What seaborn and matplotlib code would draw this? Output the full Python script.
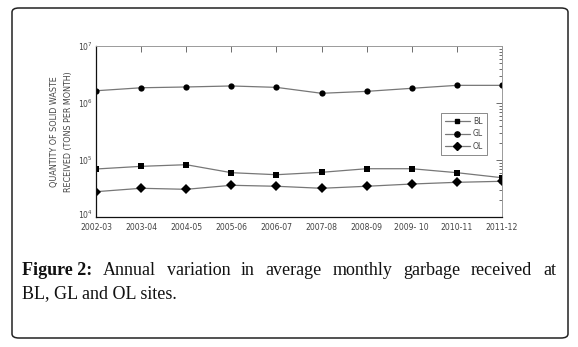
import matplotlib
matplotlib.use("Agg")
import matplotlib.pyplot as plt
import matplotlib.transforms as mtransforms
from matplotlib.patches import FancyBboxPatch
from matplotlib.ticker import (LogLocator, FixedLocator, NullFormatter,
                               LogFormatterSciNotation)
from matplotlib.lines import Line2D
import seaborn as sns
import pandas as pd

years = ["2002-03", "2003-04", "2004-05", "2005-06", "2006-07",
         "2007-08", "2008-09", "2009- 10", "2010-11", "2011-12"]
bl = [69500, 77400, 82700, 59900, 55200, 60800, 70300, 70300, 59900, 48900]
gl = [1640000, 1850000, 1910000, 1990000, 1880000, 1480000, 1600000, 1810000, 2040000, 2040000]
ol = [27800, 31900, 30600, 36000, 34600, 31900, 34600, 37900, 40600, 42300]
sites = ["BL", "GL", "OL"]
decades = [1e4, 1e5, 1e6, 1e7]

rows = []
for site, vals in zip(sites, [bl, gl, ol]):
    for i, v in enumerate(vals):
        rows.append({"pos": i, "year": years[i], "site": site, "waste": v})
df = pd.DataFrame(rows)

sns.set_style("white")
plt.rcParams["font.family"] = ["DejaVu Sans"]

W, H = 578, 347
fig = plt.figure(figsize=(W / 100, H / 100), dpi=100)

# rounded frame around figure and caption
frame = FancyBboxPatch((12 / W, 1 - 338 / H), (568 - 12) / W, (338 - 8) / H,
                       boxstyle="round,pad=0,rounding_size=0.012",
                       transform=fig.transFigure, fill=False,
                       edgecolor="#222222", linewidth=1.1)
fig.patches.append(frame)

ax = fig.add_axes([96 / W, 1 - 217 / H, (502 - 96) / W, (217 - 46) / H])

sns.lineplot(data=df, x="pos", y="waste", hue="site", style="site",
             markers={"BL": "s", "GL": "o", "OL": "D"}, dashes=False,
             palette={"BL": "#777777", "GL": "#777777", "OL": "#777777"},
             linewidth=0.9, markersize=4.5, markeredgewidth=0,
             ax=ax, legend=False)
for ln in ax.lines:
    ln.set_markerfacecolor("black")
    ln.set_markeredgecolor("black")
ax.lines[2].set_markersize(4.8)

ax.set_yscale("log")
ax.set_ylim(decades[0], decades[-1])
ax.set_xlim(0, len(years) - 1)
ax.xaxis.set_major_locator(FixedLocator(range(len(years))))
ax.set_xticklabels(years)
ax.yaxis.set_major_locator(FixedLocator(decades))
ax.yaxis.set_major_formatter(LogFormatterSciNotation())
ax.yaxis.set_minor_locator(LogLocator(base=10, subs=range(2, 10), numticks=20))
ax.yaxis.set_minor_formatter(NullFormatter())
ax.set_xlabel("")
ax.set_ylabel("QUANTITY OF SOLID WASTE\nRECEIVED (TONS PER MONTH)",
              fontsize=5.8, color="#444444", labelpad=4, linespacing=1.6)

ax.tick_params(axis="both", which="both", direction="in", top=True, right=True,
               colors="#555555", labelcolor="#444444", labelsize=5.6, width=0.6)
ax.tick_params(axis="both", which="major", length=4)
ax.tick_params(axis="x", which="major", pad=4)
ax.tick_params(axis="y", which="major", pad=2)
ax.tick_params(axis="y", which="minor", length=2)
ax.tick_params(axis="x", which="minor", length=0)

# lift the bottom decade label a little so it clears the first year label
fig.canvas.draw()
bottom_tick = ax.yaxis.get_major_ticks()[0]
lift = mtransforms.ScaledTranslation(0, 3 / 100, fig.dpi_scale_trans)
bottom_tick.label1.set_transform(bottom_tick.label1.get_transform() + lift)

for side in ["left", "bottom"]:
    ax.spines[side].set_color("#111111")
    ax.spines[side].set_linewidth(0.9)
for side in ["top", "right"]:
    ax.spines[side].set_color("#9a9a9a")
    ax.spines[side].set_linewidth(0.7)

# legend
handles = [Line2D([], [], color="#777777", lw=0.9, marker=m, markersize=ms,
                  markerfacecolor="black", markeredgecolor="black")
           for m, ms in zip(["s", "o", "D"], [3.5, 3.8, 3.8])]
leg = ax.legend(handles, sites, loc="upper left",
                bbox_to_anchor=((441 - 96) / 406, (217 - 113) / 171),
                fontsize=5.6, frameon=True, fancybox=False, edgecolor="#555555",
                handlelength=3.2, handletextpad=0.4, borderpad=0.5,
                labelspacing=0.45, borderaxespad=0)
leg.get_frame().set_linewidth(0.6)
for t in leg.get_texts():
    t.set_color("#444444")

# caption: first line justified between the frame margins
serif = ["Liberation Serif", "DejaVu Serif"]
cap_size = 13.0
x_left, x_right = 22, 556
base1, base2 = 275, 298
first_words = ["Annual", "variation", "in", "average", "monthly", "garbage",
               "received", "at"]
renderer = fig.canvas.get_renderer()
items = [fig.text(x_left / W, 1 - base1 / H, "Figure 2:", fontsize=cap_size,
                  fontweight="bold", family=serif, ha="left", va="baseline",
                  color="#111111")]
for w in first_words:
    items.append(fig.text(0, 1 - base1 / H, w, fontsize=cap_size, family=serif,
                          ha="left", va="baseline", color="#111111"))
widths = [t.get_window_extent(renderer).width for t in items]
gap = (x_right - x_left - sum(widths)) / (len(items) - 1)
x = x_left
for t, wd in zip(items, widths):
    t.set_x(x / W)
    x += wd + gap
fig.text(x_left / W, 1 - base2 / H, "BL, GL and OL sites.", fontsize=cap_size,
         family=serif, ha="left", va="baseline", color="#111111")

fig.savefig("out.png", dpi=100)
